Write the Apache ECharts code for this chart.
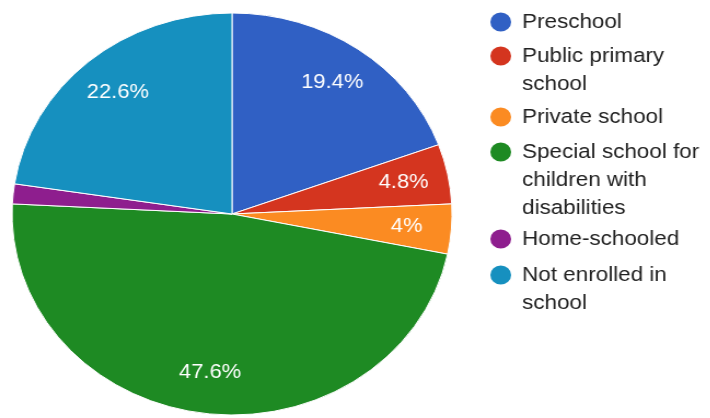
<!DOCTYPE html>
<html><head><meta charset="utf-8">
<script src="https://cdn.jsdelivr.net/npm/echarts@6/dist/echarts.min.js"></script>
<style>
html,body{margin:0;padding:0;background:#fff;overflow:hidden}
#wrap{width:710px;height:418px;overflow:hidden}
#c{width:649px;height:418px;transform:scaleX(1.0945);transform-origin:0 0}
</style>
</head><body><div id="wrap"><div id="c"></div></div>
<script>
// Data
const categories = ['Preschool', 'Public primary school', 'Private school',
  'Special school for children with disabilities', 'Home-schooled', 'Not enrolled in school'];
const values = [19.4, 4.8, 4, 47.6, 1.6, 22.6];
const showPct = [true, true, true, true, false, true];

// Styles / layout
const colors = ['#3060c4', '#d4351f', '#fb8b22', '#1e8a23', '#8e1e8e', '#1690bf'];
const legendLineCenters = [22, 56, 117, 152, 239, 275];
const legendLineCounts = [1, 2, 1, 3, 1, 2];
const LINE_H = 28;
const FONT = '"Liberation Sans", Arial, Helvetica, sans-serif';

const chart = echarts.init(document.getElementById('c'), null, {renderer: 'canvas'});

const mainData = categories.map((n, i) => ({name: n, value: values[i], itemStyle: {color: colors[i]}}));
const labelData = categories.map((n, i) => ({name: n, value: values[i], label: {show: showPct[i]}}));

const legends = categories.map((n, i) => ({
  data: [n],
  orient: 'vertical',
  left: 446,
  top: legendLineCenters[i] - LINE_H / 2 - (legendLineCounts[i] - 1) * LINE_H,
  padding: 0,
  icon: 'circle',
  itemWidth: 21,
  itemHeight: 21,
  selectedMode: false,
  formatter: name => '\n'.repeat(legendLineCounts[i] - 1) + name,
  textStyle: {
    fontFamily: FONT, fontSize: 20.5, color: '#222', lineHeight: LINE_H,
    width: 172, overflow: 'break',
    padding: [0, 0, 0, 4]
  }
}));

chart.setOption({
  animation: false,
  backgroundColor: '#fff',
  legend: legends,
  series: [
    {
      type: 'pie',
      center: [212, 214],
      radius: [0, 201],
      startAngle: 90,
      clockwise: true,
      avoidLabelOverlap: false,
      label: {show: false},
      labelLine: {show: false},
      emphasis: {disabled: true},
      itemStyle: {borderColor: '#fff', borderWidth: 1},
      data: mainData
    },
    {
      type: 'pie',
      center: [212, 214],
      radius: [113, 201],
      startAngle: 90,
      clockwise: true,
      silent: true,
      avoidLabelOverlap: false,
      itemStyle: {color: 'rgba(0,0,0,0)', borderWidth: 0},
      labelLine: {show: false},
      emphasis: {disabled: true},
      label: {
        position: 'inside',
        formatter: p => p.value + '%',
        color: '#fff',
        fontFamily: FONT,
        fontSize: 20,
        textBorderWidth: 0
      },
      data: labelData
    }
  ]
});
</script>
</body></html>
